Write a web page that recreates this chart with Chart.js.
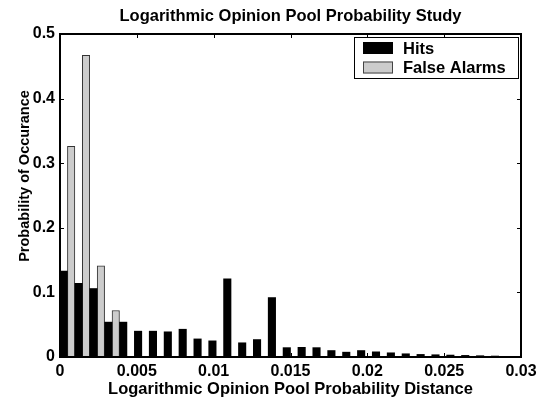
<!DOCTYPE html>
<html><head><meta charset="utf-8">
<script src="https://cdn.jsdelivr.net/npm/chart.js@4.4.1/dist/chart.umd.min.js"></script>
<style>html,body{margin:0;padding:0;background:#fff}#wrap{width:547px;height:399px}</style>
</head><body><div id="wrap"><canvas id="c" width="547" height="399"></canvas></div>
<script>
// Bin centres of the histogram (31 bins over 0..0.03)
const binCenters = [0.000484,0.001452,0.002419,0.003387,0.004355,0.005323,0.006290,0.007258,0.008226,0.009194,
  0.010161,0.011129,0.012097,0.013065,0.014032,0.015000,0.015968,0.016935,0.017903,0.018871,
  0.019839,0.020806,0.021774,0.022742,0.023710,0.024677,0.025645,0.026613,0.027581,0.028548,0.029516];
const hits = [0.133,0.114,0.106,0.054,0.054,0.040,0.040,0.039,0.043,0.028,
  0.025,0.121,0.022,0.027,0.092,0.0145,0.015,0.0145,0.010,0.0075,
  0.010,0.008,0.0065,0.005,0.004,0.0035,0.003,0.0025,0.002,0.0015,0];
const falseAlarms = [0.326,0.467,0.141,0.072,0,0,0,0,0,0,
  0,0,0,0,0,0,0,0,0,0,
  0,0,0,0,0,0,0,0,0,0,0];
const xTicks = [0,0.005,0.01,0.015,0.02,0.025,0.03];
const yTicks = [0,0.1,0.2,0.3,0.4,0.5];
const seriesNames = ['Hits','False Alarms'];
const titleText = 'Logarithmic Opinion Pool Probability Study';
const xLabel = 'Logarithmic Opinion Pool Probability Distance';
const yLabel = 'Probability of Occurance';

const FONT = '"Liberation Sans", Arial, sans-serif';
const GRAY = '#cccccc';

const decor = {
  id: 'decor',
  afterDraw(chart) {
    const ctx = chart.ctx, a = chart.chartArea;
    const xs = chart.scales.x, ys = chart.scales.y;
    ctx.save();
    ctx.strokeStyle = '#000';
    ctx.lineWidth = 1;
    // inside ticks
    const tl = 4;
    ctx.beginPath();
    xTicks.forEach(v => {
      const px = Math.round(xs.getPixelForValue(v)) + 0.5;
      ctx.moveTo(px, a.bottom); ctx.lineTo(px, a.bottom - tl);
      ctx.moveTo(px, a.top); ctx.lineTo(px, a.top + tl);
    });
    yTicks.forEach(v => {
      const py = Math.round(ys.getPixelForValue(v)) + 0.5;
      ctx.moveTo(a.left, py); ctx.lineTo(a.left + tl, py);
      ctx.moveTo(a.right, py); ctx.lineTo(a.right - tl, py);
    });
    ctx.stroke();
    // frame
    ctx.lineWidth = 2;
    ctx.strokeRect(Math.round(a.left), Math.round(a.top), Math.round(a.right - a.left), Math.round(a.bottom - a.top));
    // title
    ctx.fillStyle = '#000';
    ctx.font = 'bold 16.5px ' + FONT;
    ctx.textAlign = 'center';
    ctx.textBaseline = 'alphabetic';
    ctx.fillText(titleText, (a.left + a.right) / 2, 21);
    ctx.fillText(xLabel, (a.left + a.right) / 2, 394);
    ctx.save();
    ctx.font = 'bold 14.5px ' + FONT;
    ctx.translate(29, 176);
    ctx.rotate(-Math.PI / 2);
    ctx.fillText(yLabel, 0, 0);
    ctx.restore();
    // legend
    const lx = 354, ly = 37, lw = 164, lh = 41;
    ctx.fillStyle = '#fff';
    ctx.fillRect(lx, ly, lw, lh);
    ctx.lineWidth = 1;
    ctx.strokeStyle = '#000';
    ctx.strokeRect(lx + 0.5, ly + 0.5, lw, lh);
    const fills = ['#000', GRAY];
    const rows = [48, 67.5];
    ctx.font = 'bold 16.5px ' + FONT;
    seriesNames.forEach((n, i) => {
      ctx.fillStyle = fills[i];
      ctx.fillRect(363, rows[i] - 6, 30, 12);
      ctx.strokeStyle = i === 0 ? '#000' : '#444';
      ctx.strokeRect(363.5, rows[i] - 5.5, 29, 11);
      ctx.fillStyle = '#000';
      ctx.textAlign = 'left';
      ctx.textBaseline = 'middle';
      ctx.fillText(n, 403, rows[i] + 1);
    });
    ctx.restore();
  }
};

new Chart(document.getElementById('c'), {
  type: 'bar',
  data: {
    datasets: [
      { label: seriesNames[0], data: binCenters.map((x, i) => ({x, y: hits[i]})),
        backgroundColor: '#000', borderColor: '#000', borderWidth: 0 },
      { label: seriesNames[1], data: binCenters.map((x, i) => ({x, y: falseAlarms[i]})),
        backgroundColor: GRAY, borderColor: '#333',
        borderWidth: c => (c.raw && c.raw.y > 0) ? 1 : 0 }
    ]
  },
  options: {
    responsive: false,
    animation: false,
    devicePixelRatio: 1,
    categoryPercentage: 1,
    barPercentage: 1,
    layout: { padding: { top: 34, right: 26, left: 0, bottom: 0 } },
    plugins: { legend: { display: false }, title: { display: false }, tooltip: { enabled: false } },
    scales: {
      x: {
        type: 'linear', min: 0, max: 0.03, offset: false,
        grid: { display: false, drawTicks: false, offset: false }, border: { display: false },
        afterBuildTicks: s => { s.ticks = xTicks.map(v => ({ value: v })); },
        afterFit: s => { s.height = 42; },
        ticks: { autoSkip: false, maxRotation: 0, padding: 5, color: '#000',
          font: { family: FONT, size: 16, weight: 'bold' },
          callback: v => String(+v.toFixed(3)) }
      },
      y: {
        min: 0, max: 0.5,
        grid: { display: false, drawTicks: false }, border: { display: false },
        afterBuildTicks: s => { s.ticks = yTicks.map(v => ({ value: v })); },
        afterFit: s => { s.width = 60; },
        ticks: { padding: 5, color: '#000',
          font: { family: FONT, size: 16, weight: 'bold' },
          callback: v => String(+v.toFixed(1)) }
      }
    }
  },
  plugins: [decor]
});
</script></body></html>
